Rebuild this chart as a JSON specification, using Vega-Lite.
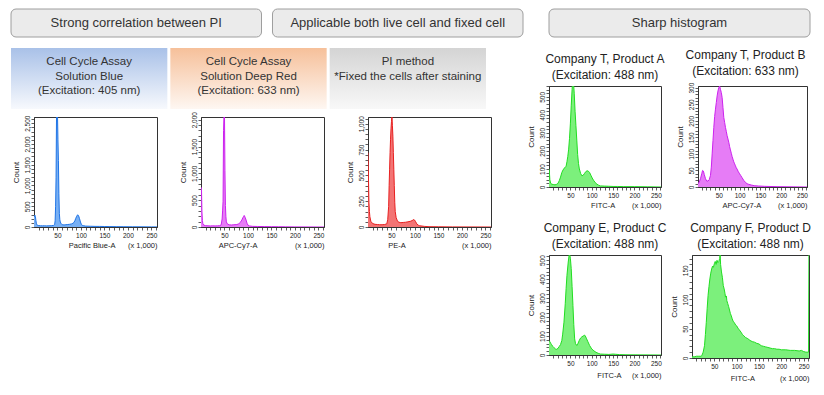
{
 "$schema": "https://vega.github.io/schema/vega-lite/v6.json",
 "background": "white",
 "padding": {"left": 10, "top": 8, "right": 0, "bottom": 0},
 "config": {
  "font": "Liberation Sans",
  "view": {"stroke": "#333", "strokeWidth": 1},
  "axis": {"grid": false, "tickSize": 3, "labelFontSize": 6.5, "labelPadding": 1, "titleFontSize": 7.5, "titleFontWeight": "normal", "domainColor": "#333", "tickColor": "#333", "labelColor": "#222", "titleColor": "#222", "labelOverlap": false, "labelFlush": false, "tickWidth": 0.8},
  "axisX": {"titleAnchor": "end", "titlePadding": 3, "labelPadding": 2},
  "axisY": {"labelAngle": 270, "titlePadding": 4, "titleFontSize": 8},
  "title": {"fontSize": 12, "fontWeight": "normal", "color": "#222", "lineHeight": 16, "offset": 4}
 },
 "datasets": {
  "grayLeft": [{"box": "Strong correlation between PI"}, {"box": "Applicable both live cell and fixed cell"}],
  "sharp": [{"box": "Sharp histogram"}],
  "colored": [
   {"box": "blue", "label": "Cell Cycle Assay\nSolution Blue\n(Excitation: 405 nm)"},
   {"box": "orange", "label": "Cell Cycle Assay\nSolution Deep Red\n(Excitation: 633 nm)"},
   {"box": "gray", "label": "PI method\n*Fixed the cells after staining"}
  ],
  "h1": [{"x":0,"y":240},{"x":1,"y":270},{"x":2,"y":285},{"x":3,"y":250},{"x":4,"y":160},{"x":5,"y":90},{"x":6,"y":55},{"x":8,"y":40},{"x":10,"y":35},{"x":14,"y":30},{"x":18,"y":28},{"x":22,"y":30},{"x":26,"y":27},{"x":30,"y":28},{"x":34,"y":30},{"x":38,"y":32},{"x":42,"y":40},{"x":44,"y":60},{"x":45,"y":150},{"x":46,"y":500},{"x":47,"y":1200},{"x":48,"y":2700},{"x":49,"y":2750},{"x":50,"y":2750},{"x":51,"y":2100},{"x":52,"y":1600},{"x":53,"y":800},{"x":54,"y":330},{"x":55,"y":180},{"x":56,"y":120},{"x":58,"y":80},{"x":60,"y":55},{"x":64,"y":50},{"x":68,"y":55},{"x":72,"y":60},{"x":76,"y":65},{"x":80,"y":75},{"x":83,"y":90},{"x":85,"y":110},{"x":87,"y":150},{"x":89,"y":210},{"x":91,"y":260},{"x":93,"y":295},{"x":95,"y":270},{"x":97,"y":200},{"x":99,"y":120},{"x":101,"y":60},{"x":103,"y":40},{"x":106,"y":30},{"x":110,"y":22},{"x":120,"y":18},{"x":130,"y":15},{"x":140,"y":14},{"x":150,"y":12},{"x":160,"y":10},{"x":175,"y":8},{"x":190,"y":7},{"x":210,"y":5},{"x":230,"y":4},{"x":250,"y":3},{"x":262,"y":2}],
  "h2": [{"x":0,"y":740},{"x":1,"y":720},{"x":2,"y":280},{"x":3,"y":120},{"x":4,"y":60},{"x":6,"y":35},{"x":10,"y":25},{"x":15,"y":22},{"x":20,"y":20},{"x":25,"y":22},{"x":30,"y":20},{"x":35,"y":22},{"x":40,"y":25},{"x":43,"y":40},{"x":45,"y":150},{"x":46,"y":300},{"x":47,"y":480},{"x":48,"y":1800},{"x":49,"y":2100},{"x":50,"y":2100},{"x":51,"y":1050},{"x":52,"y":400},{"x":53,"y":200},{"x":54,"y":95},{"x":56,"y":60},{"x":60,"y":40},{"x":65,"y":38},{"x":70,"y":42},{"x":75,"y":45},{"x":80,"y":55},{"x":84,"y":90},{"x":87,"y":130},{"x":89,"y":170},{"x":91,"y":200},{"x":92,"y":215},{"x":94,"y":180},{"x":96,"y":130},{"x":98,"y":70},{"x":100,"y":35},{"x":103,"y":20},{"x":110,"y":12},{"x":120,"y":10},{"x":135,"y":8},{"x":150,"y":6},{"x":165,"y":5},{"x":180,"y":3},{"x":200,"y":2},{"x":230,"y":1},{"x":262,"y":0}],
  "h3": [{"x":0,"y":720},{"x":1,"y":470},{"x":2,"y":240},{"x":3,"y":150},{"x":4,"y":100},{"x":6,"y":55},{"x":10,"y":33},{"x":15,"y":26},{"x":20,"y":24},{"x":25,"y":22},{"x":30,"y":22},{"x":35,"y":24},{"x":40,"y":30},{"x":42,"y":70},{"x":44,"y":200},{"x":45,"y":400},{"x":46,"y":560},{"x":47,"y":720},{"x":48,"y":850},{"x":49,"y":950},{"x":50,"y":1020},{"x":51,"y":1080},{"x":52,"y":980},{"x":53,"y":880},{"x":54,"y":720},{"x":55,"y":560},{"x":56,"y":400},{"x":57,"y":240},{"x":58,"y":150},{"x":60,"y":90},{"x":63,"y":55},{"x":66,"y":46},{"x":70,"y":42},{"x":75,"y":44},{"x":80,"y":46},{"x":85,"y":50},{"x":90,"y":55},{"x":94,"y":62},{"x":97,"y":72},{"x":99,"y":68},{"x":101,"y":55},{"x":104,"y":30},{"x":107,"y":18},{"x":110,"y":12},{"x":115,"y":9},{"x":120,"y":6},{"x":130,"y":3},{"x":150,"y":2},{"x":180,"y":1},{"x":262,"y":0}],
  "pA": [{"x":0,"y":100},{"x":1,"y":80},{"x":2,"y":40},{"x":4,"y":20},{"x":7,"y":15},{"x":10,"y":14},{"x":14,"y":12},{"x":18,"y":15},{"x":21,"y":20},{"x":24,"y":35},{"x":27,"y":55},{"x":30,"y":80},{"x":33,"y":95},{"x":36,"y":105},{"x":40,"y":115},{"x":42,"y":140},{"x":44,"y":170},{"x":46,"y":210},{"x":48,"y":270},{"x":50,"y":350},{"x":52,"y":450},{"x":54,"y":540},{"x":55,"y":580},{"x":57,"y":590},{"x":59,"y":520},{"x":61,"y":420},{"x":63,"y":340},{"x":65,"y":260},{"x":67,"y":180},{"x":69,"y":130},{"x":71,"y":100},{"x":74,"y":75},{"x":77,"y":62},{"x":80,"y":65},{"x":83,"y":75},{"x":86,"y":85},{"x":89,"y":90},{"x":92,"y":88},{"x":95,"y":80},{"x":98,"y":65},{"x":101,"y":50},{"x":104,"y":38},{"x":108,"y":25},{"x":112,"y":16},{"x":116,"y":10},{"x":120,"y":6},{"x":130,"y":5},{"x":140,"y":4},{"x":150,"y":3},{"x":160,"y":3},{"x":175,"y":2},{"x":200,"y":2},{"x":230,"y":1},{"x":262,"y":0}],
  "pB": [{"x":0,"y":10},{"x":3,"y":15},{"x":6,"y":25},{"x":9,"y":40},{"x":11,"y":50},{"x":13,"y":48},{"x":15,"y":38},{"x":18,"y":25},{"x":21,"y":18},{"x":24,"y":18},{"x":27,"y":22},{"x":30,"y":35},{"x":32,"y":60},{"x":34,"y":100},{"x":36,"y":140},{"x":38,"y":180},{"x":40,"y":213},{"x":42,"y":235},{"x":44,"y":255},{"x":46,"y":275},{"x":48,"y":290},{"x":50,"y":300},{"x":52,"y":305},{"x":54,"y":295},{"x":56,"y":285},{"x":58,"y":270},{"x":60,"y":240},{"x":62,"y":210},{"x":64,"y":195},{"x":66,"y":180},{"x":68,"y":168},{"x":70,"y":155},{"x":72,"y":145},{"x":74,"y":135},{"x":76,"y":122},{"x":78,"y":112},{"x":80,"y":102},{"x":82,"y":92},{"x":84,"y":84},{"x":86,"y":76},{"x":88,"y":70},{"x":90,"y":64},{"x":92,"y":58},{"x":94,"y":54},{"x":97,"y":46},{"x":100,"y":40},{"x":103,"y":34},{"x":106,"y":28},{"x":110,"y":20},{"x":114,"y":14},{"x":118,"y":10},{"x":122,"y":8},{"x":128,"y":6},{"x":135,"y":4},{"x":145,"y":3},{"x":160,"y":2},{"x":190,"y":1},{"x":262,"y":0}],
  "pC": [{"x":0,"y":76},{"x":2,"y":70},{"x":4,"y":62},{"x":6,"y":55},{"x":9,"y":45},{"x":12,"y":38},{"x":15,"y":32},{"x":18,"y":30},{"x":21,"y":35},{"x":24,"y":45},{"x":27,"y":55},{"x":30,"y":76},{"x":32,"y":110},{"x":35,"y":173},{"x":38,"y":270},{"x":40,"y":350},{"x":42,"y":420},{"x":45,"y":490},{"x":47,"y":525},{"x":48,"y":535},{"x":50,"y":510},{"x":52,"y":455},{"x":54,"y":360},{"x":56,"y":261},{"x":58,"y":160},{"x":60,"y":85},{"x":62,"y":60},{"x":65,"y":50},{"x":68,"y":62},{"x":71,"y":78},{"x":74,"y":90},{"x":77,"y":96},{"x":80,"y":100},{"x":83,"y":105},{"x":85,"y":100},{"x":88,"y":85},{"x":91,"y":70},{"x":95,"y":50},{"x":100,"y":32},{"x":105,"y":22},{"x":110,"y":14},{"x":115,"y":9},{"x":120,"y":5},{"x":130,"y":4},{"x":140,"y":3},{"x":150,"y":5},{"x":155,"y":4},{"x":165,"y":2},{"x":180,"y":1},{"x":262,"y":0}],
  "pD": [{"x":0,"y":2},{"x":5,"y":2},{"x":10,"y":3},{"x":15,"y":3},{"x":20,"y":3},{"x":22,"y":4},{"x":25,"y":10},{"x":28,"y":21},{"x":30,"y":40},{"x":32,"y":61},{"x":34,"y":85},{"x":36,"y":107},{"x":38,"y":122},{"x":40,"y":135},{"x":42,"y":145},{"x":44,"y":152},{"x":46,"y":157},{"x":48,"y":155},{"x":50,"y":161},{"x":52,"y":165},{"x":54,"y":160},{"x":56,"y":167},{"x":58,"y":163},{"x":60,"y":165},{"x":62,"y":170},{"x":63,"y":178},{"x":64,"y":160},{"x":66,"y":147},{"x":68,"y":138},{"x":70,"y":124},{"x":72,"y":118},{"x":74,"y":110},{"x":75,"y":104},{"x":77,"y":106},{"x":78,"y":98},{"x":80,"y":93},{"x":82,"y":88},{"x":84,"y":82},{"x":86,"y":76},{"x":88,"y":72},{"x":90,"y":67},{"x":92,"y":63},{"x":95,"y":60},{"x":98,"y":56},{"x":100,"y":55},{"x":103,"y":51},{"x":106,"y":48},{"x":110,"y":44},{"x":113,"y":40},{"x":116,"y":38},{"x":120,"y":35},{"x":125,"y":33},{"x":130,"y":30},{"x":135,"y":28},{"x":140,"y":27},{"x":145,"y":25},{"x":150,"y":24},{"x":155,"y":21},{"x":160,"y":20},{"x":165,"y":19},{"x":170,"y":18},{"x":175,"y":17},{"x":180,"y":16},{"x":185,"y":16},{"x":190,"y":15},{"x":195,"y":15},{"x":200,"y":14},{"x":210,"y":14},{"x":220,"y":13},{"x":230,"y":13},{"x":240,"y":12},{"x":245,"y":13},{"x":250,"y":11},{"x":255,"y":10},{"x":261,"y":10},{"x":262,"y":200}]
 },
 "spacing": 0,
 "hconcat": [
  {
   "spacing": 2,
   "vconcat": [
    {
     "spacing": 10,
     "vconcat": [
      {
       "width": 492, "height": 28, "view": {"stroke": null},
       "data": {"name": "grayLeft"},
       "encoding": {"x": {"field": "box", "type": "nominal", "axis": null, "scale": {"type": "band", "domain": ["Strong correlation between PI", "Applicable both live cell and fixed cell"], "range": [-23, 489], "paddingInner": 0.042, "paddingOuter": 0}}},
       "layer": [
        {"mark": {"type": "rect", "cornerRadius": 5, "fill": "#ebebeb", "stroke": "#9e9e9e", "strokeWidth": 1}},
        {"mark": {"type": "text", "fontSize": 13, "color": "#333"}, "encoding": {"text": {"field": "box"}}}
       ]
      },
      {
       "width": 492, "height": 61, "view": {"stroke": null},
       "data": {"name": "colored"},
       "encoding": {"x": {"field": "box", "type": "nominal", "axis": null, "scale": {"type": "band", "domain": ["blue", "orange", "gray"], "range": [-23, 452], "paddingInner": 0.0189, "paddingOuter": 0}}},
       "layer": [
        {"transform": [{"filter": "datum.box === 'blue'"}], "mark": {"type": "rect", "fill": {"gradient": "linear", "x1": 0, "y1": 0, "x2": 0, "y2": 1, "stops": [{"offset": 0, "color": "#a9c1e8"}, {"offset": 1, "color": "#f7f9fd"}]}}},
        {"transform": [{"filter": "datum.box === 'orange'"}], "mark": {"type": "rect", "fill": {"gradient": "linear", "x1": 0, "y1": 0, "x2": 0, "y2": 1, "stops": [{"offset": 0, "color": "#f6c09a"}, {"offset": 1, "color": "#fef7f2"}]}}},
        {"transform": [{"filter": "datum.box === 'gray'"}], "mark": {"type": "rect", "fill": {"gradient": "linear", "x1": 0, "y1": 0, "x2": 0, "y2": 1, "stops": [{"offset": 0, "color": "#d4d4d4"}, {"offset": 1, "color": "#f8f8f8"}]}}},
        {"mark": {"type": "text", "fontSize": 11.5, "color": "#333", "lineBreak": "\n", "lineHeight": 14.5, "dy": -16.5}, "encoding": {"text": {"field": "label"}}}
       ]
      }
     ]
    },
    {
     "spacing": 20,
     "hconcat": [
      {
       "width": 123, "height": 110, "data": {"name": "h1"},
       "encoding": {
        "x": {"field": "x", "type": "quantitative", "scale": {"domain": [0, 262], "nice": false, "zero": false}, "axis": {"title": "Pacific Blue-A\u00a0\u00a0\u00a0\u00a0\u00a0\u00a0(x 1,000)", "values": [10,20,30,40,50,60,70,80,90,100,110,120,130,140,150,160,170,180,190,200,210,220,230,240,250,260], "labelExpr": "datum.value % 50 === 0 ? datum.label : ''"}},
        "y": {"field": "y", "type": "quantitative", "scale": {"domain": [0, 2650], "nice": false}, "axis": {"title": "Count", "values": [0,100,200,300,400,500,600,700,800,900,1000,1100,1200,1300,1400,1500,1600,1700,1800,1900,2000,2100,2200,2300,2400,2500,2600], "labelExpr": "datum.value % 500 === 0 ? format(datum.value, ',') : ''"}}
       },
       "layer": [
        {"mark": {"type": "area", "color": "#78b0f4", "clip": true}},
        {"mark": {"type": "line", "color": "#1f74e6", "strokeWidth": 1, "clip": true}}
       ]
      },
      {
       "width": 123, "height": 110, "data": {"name": "h2"},
       "encoding": {
        "x": {"field": "x", "type": "quantitative", "scale": {"domain": [0, 262], "nice": false, "zero": false}, "axis": {"title": "APC-Cy7-A\u00a0\u00a0\u00a0\u00a0\u00a0\u00a0\u00a0\u00a0\u00a0\u00a0\u00a0\u00a0\u00a0\u00a0\u00a0\u00a0\u00a0\u00a0(x 1,000)", "values": [10,20,30,40,50,60,70,80,90,100,110,120,130,140,150,160,170,180,190,200,210,220,230,240,250,260], "labelExpr": "datum.value % 50 === 0 ? datum.label : ''"}},
        "y": {"field": "y", "type": "quantitative", "scale": {"domain": [0, 2050], "nice": false}, "axis": {"title": "Count", "values": [0,100,200,300,400,500,600,700,800,900,1000,1100,1200,1300,1400,1500,1600,1700,1800,1900,2000], "labelExpr": "datum.value % 500 === 0 ? format(datum.value, ',') : ''"}}
       },
       "layer": [
        {"mark": {"type": "area", "color": "#e67cf6", "clip": true}},
        {"mark": {"type": "line", "color": "#cc22ee", "strokeWidth": 1, "clip": true}}
       ]
      },
      {
       "width": 123, "height": 110, "data": {"name": "h3"},
       "encoding": {
        "x": {"field": "x", "type": "quantitative", "scale": {"domain": [0, 262], "nice": false, "zero": false}, "axis": {"title": "PE-A\u00a0\u00a0\u00a0\u00a0\u00a0\u00a0\u00a0\u00a0\u00a0\u00a0\u00a0\u00a0\u00a0\u00a0\u00a0\u00a0\u00a0\u00a0\u00a0\u00a0\u00a0\u00a0\u00a0\u00a0\u00a0\u00a0\u00a0(x 1,000)", "values": [10,20,30,40,50,60,70,80,90,100,110,120,130,140,150,160,170,180,190,200,210,220,230,240,250,260], "labelExpr": "datum.value % 50 === 0 ? datum.label : ''"}},
        "y": {"field": "y", "type": "quantitative", "scale": {"domain": [0, 1065], "nice": false}, "axis": {"title": "Count", "values": [0,50,100,150,200,250,300,350,400,450,500,550,600,650,700,750,800,850,900,950,1000,1050], "labelExpr": "datum.value % 250 === 0 ? format(datum.value, ',') : ''"}}
       },
       "layer": [
        {"mark": {"type": "area", "color": "#f37474", "clip": true}},
        {"mark": {"type": "line", "color": "#e82020", "strokeWidth": 1, "clip": true}}
       ]
      }
     ]
    }
   ]
  },
  {
   "spacing": 10,
   "vconcat": [
    {
     "width": 261, "height": 28, "view": {"stroke": null},
     "data": {"name": "sharp"},
     "encoding": {"x": {"field": "box", "type": "nominal", "axis": null, "scale": {"type": "band", "paddingInner": 0, "paddingOuter": 0}}},
     "layer": [
      {"mark": {"type": "rect", "cornerRadius": 5, "fill": "#ebebeb", "stroke": "#9e9e9e", "strokeWidth": 1}},
      {"mark": {"type": "text", "fontSize": 13, "color": "#333"}, "encoding": {"text": {"field": "box"}}}
     ]
    },
    {
     "spacing": 11,
     "vconcat": [
      {
       "spacing": 9,
       "hconcat": [
        {
         "width": 112, "height": 101, "data": {"name": "pA"},
         "title": {"text": ["Company T, Product A", "(Excitation: 488 nm)"]},
         "encoding": {
          "x": {"field": "x", "type": "quantitative", "scale": {"domain": [0, 262], "nice": false, "zero": false}, "axis": {"title": "FITC-A\u00a0\u00a0\u00a0\u00a0\u00a0\u00a0\u00a0\u00a0(x 1,000)", "values": [10,20,30,40,50,60,70,80,90,100,110,120,130,140,150,160,170,180,190,200,210,220,230,240,250,260], "labelExpr": "datum.value % 50 === 0 ? datum.label : ''"}},
          "y": {"field": "y", "type": "quantitative", "scale": {"domain": [0, 560], "nice": false}, "axis": {"title": "Count", "values": [0,20,40,60,80,100,120,140,160,180,200,220,240,260,280,300,320,340,360,380,400,420,440,460,480,500,520,540,560], "labelExpr": "datum.value % 100 === 0 ? format(datum.value, ',') : ''"}}
         },
         "layer": [
          {"mark": {"type": "area", "color": "#7cf07c", "clip": true}},
          {"mark": {"type": "line", "color": "#22dd22", "strokeWidth": 1, "clip": true}}
         ]
        },
        {
         "width": 109, "height": 101, "data": {"name": "pB"},
         "title": {"text": ["Company T, Product B", "(Excitation: 633 nm)"], "dx": -7},
         "encoding": {
          "x": {"field": "x", "type": "quantitative", "scale": {"domain": [0, 262], "nice": false, "zero": false}, "axis": {"title": "APC-Cy7-A\u00a0\u00a0\u00a0\u00a0\u00a0\u00a0\u00a0\u00a0(x 1,000)", "values": [10,20,30,40,50,60,70,80,90,100,110,120,130,140,150,160,170,180,190,200,210,220,230,240,250,260], "labelExpr": "datum.value % 50 === 0 ? datum.label : ''"}},
          "y": {"field": "y", "type": "quantitative", "scale": {"domain": [0, 305], "nice": false}, "axis": {"title": "Count", "values": [0,10,20,30,40,50,60,70,80,90,100,110,120,130,140,150,160,170,180,190,200,210,220,230,240,250,260,270,280,290,300], "labelExpr": "datum.value % 50 === 0 ? format(datum.value, ',') : ''"}}
         },
         "layer": [
          {"mark": {"type": "area", "color": "#e67cf6", "clip": true}},
          {"mark": {"type": "line", "color": "#cc22ee", "strokeWidth": 1, "clip": true}}
         ]
        }
       ]
      },
      {
       "spacing": 2,
       "hconcat": [
        {
         "width": 112, "height": 100, "data": {"name": "pC"},
         "title": {"text": ["Company E, Product C", "(Excitation: 488 nm)"]},
         "encoding": {
          "x": {"field": "x", "type": "quantitative", "scale": {"domain": [0, 262], "nice": false, "zero": false}, "axis": {"title": "FITC-A\u00a0\u00a0\u00a0\u00a0\u00a0(x 1,000)", "titlePadding": 5, "values": [10,20,30,40,50,60,70,80,90,100,110,120,130,140,150,160,170,180,190,200,210,220,230,240,250,260], "labelExpr": "datum.value % 50 === 0 ? datum.label : ''"}},
          "y": {"field": "y", "type": "quantitative", "scale": {"domain": [0, 527], "nice": false}, "axis": {"title": "Count", "values": [0,20,40,60,80,100,120,140,160,180,200,220,240,260,280,300,320,340,360,380,400,420,440,460,480,500,520], "labelExpr": "datum.value % 100 === 0 ? format(datum.value, ',') : ''"}}
         },
         "layer": [
          {"mark": {"type": "area", "color": "#7cf07c", "clip": true}},
          {"mark": {"type": "line", "color": "#22dd22", "strokeWidth": 1, "clip": true}}
         ]
        },
        {
         "width": 117, "height": 103, "data": {"name": "pD"},
         "title": {"text": ["Company F, Product D", "(Excitation: 488 nm)"]},
         "encoding": {
          "x": {"field": "x", "type": "quantitative", "scale": {"domain": [0, 262], "nice": false, "zero": false}, "axis": {"title": "FITC-A\u00a0\u00a0\u00a0\u00a0\u00a0\u00a0\u00a0\u00a0\u00a0\u00a0\u00a0\u00a0(x 1,000)", "titlePadding": 5, "values": [10,20,30,40,50,60,70,80,90,100,110,120,130,140,150,160,170,180,190,200,210,220,230,240,250,260], "labelExpr": "datum.value % 50 === 0 ? datum.label : ''"}},
          "y": {"field": "y", "type": "quantitative", "scale": {"domain": [0, 176], "nice": false}, "axis": {"title": "Count", "values": [0,10,20,30,40,50,60,70,80,90,100,110,120,130,140,150,160,170], "labelExpr": "datum.value % 50 === 0 ? format(datum.value, ',') : ''"}}
         },
         "layer": [
          {"mark": {"type": "area", "color": "#7cf07c", "clip": true}},
          {"mark": {"type": "line", "color": "#22dd22", "strokeWidth": 1, "clip": true}}
         ]
        }
       ]
      }
     ]
    }
   ]
  }
 ]
}
